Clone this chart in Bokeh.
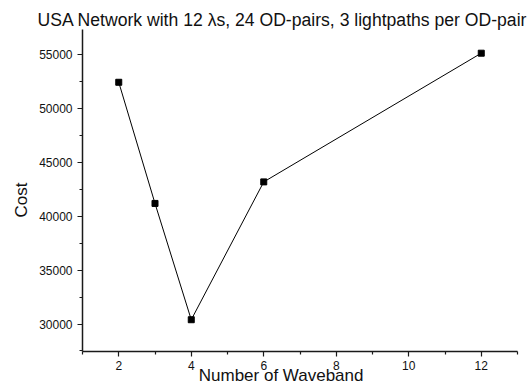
from bokeh.plotting import figure
from bokeh.models import FixedTicker, Range1d, Title
from bokeh.embed import file_html
from bokeh.resources import INLINE

# Data
wavebands = [2, 3, 4, 6, 12]
cost = [52450, 41200, 30400, 43200, 55150]
x_major = [2, 4, 6, 8, 10, 12]
x_minor = [1, 3, 5, 7, 9, 11, 13]
y_major = [30000, 35000, 40000, 45000, 50000, 55000]
y_minor = [27500, 32500, 37500, 42500, 47500, 52500, 57500]

FONT = "Liberation Sans"
NB = "\u00a0"

p = figure(width=529, height=387, output_backend="svg", toolbar_location=None,
           x_range=Range1d(1, 13), y_range=Range1d(27450, 57350),
           min_border_left=82, min_border_right=12, min_border_top=29, min_border_bottom=35)
p.outline_line_color = None
p.xgrid.grid_line_color = None
p.ygrid.grid_line_color = None

p.title = Title(text="USA Network with 12 \u03bbs, 24 OD-pairs, 3 lightpaths per OD-pair",
                align="left", offset=-45, standoff=0,
                text_font=FONT, text_font_size="17.6px", text_font_style="normal",
                text_color="#111111")

p.line(wavebands, cost, line_color="black", line_width=1)
p.scatter(wavebands, cost, marker="square", size=6, fill_color="black", line_color="black")

for ax in (p.xaxis[0], p.yaxis[0]):
    ax.axis_line_color = "#1a1a1a"
    ax.axis_line_width = 1.5
    ax.major_tick_line_color = "#1a1a1a"
    ax.minor_tick_line_color = "#1a1a1a"
    ax.major_tick_line_width = 1.2
    ax.minor_tick_line_width = 1.2
    ax.major_tick_in = 0
    ax.major_tick_out = 5
    ax.minor_tick_in = 0
    ax.minor_tick_out = 3
    ax.major_label_text_font = FONT
    ax.major_label_text_font_size = "12px"
    ax.major_label_text_color = "#111111"
    ax.axis_label_text_font = FONT
    ax.axis_label_text_font_size = "17px"
    ax.axis_label_text_font_style = "normal"
    ax.axis_label_text_color = "#111111"

p.xaxis[0].ticker = FixedTicker(ticks=x_major, minor_ticks=x_minor)
p.yaxis[0].ticker = FixedTicker(ticks=y_major, minor_ticks=y_minor)
p.xaxis[0].major_label_standoff = 4
p.yaxis[0].major_label_standoff = 5
p.xaxis[0].axis_label = "Number of Waveband" + NB * 8
p.xaxis[0].axis_label_standoff = -7
p.yaxis[0].axis_label = "Cost" + NB * 4
p.yaxis[0].axis_label_standoff = 5

open("out.html", "w").write(file_html(p, INLINE))
